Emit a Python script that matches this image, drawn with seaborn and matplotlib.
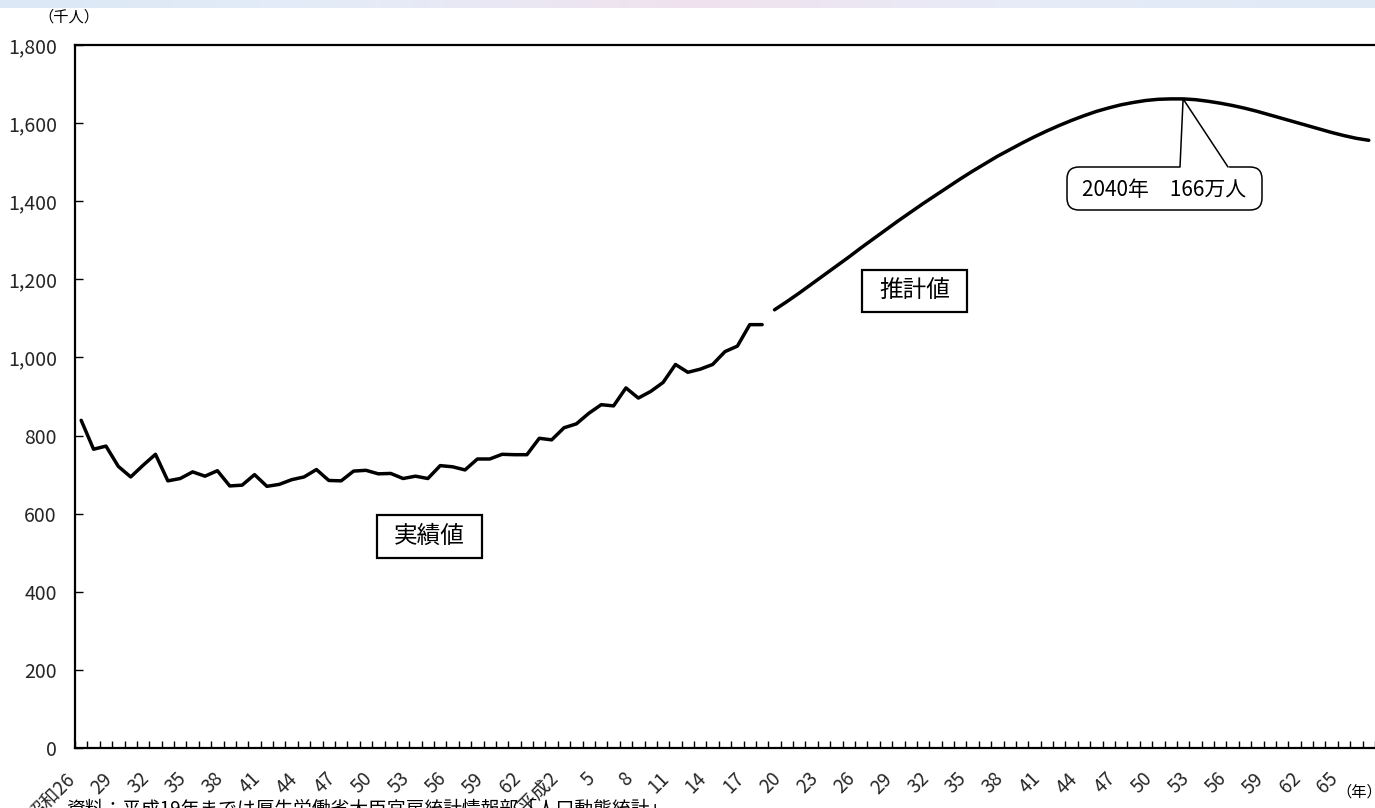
import numpy as np
import pandas as pd
import matplotlib
matplotlib.use("Agg")
import matplotlib.pyplot as plt
import matplotlib.transforms as mtransforms
from matplotlib.patches import FancyBboxPatch, Rectangle
from matplotlib.colors import LinearSegmentedColormap
import seaborn as sns

# Annual deaths in Japan (thousands): recorded values and the projection
actual_years = list(range(1951, 2007))
actual_deaths = [839, 765, 773, 721, 694, 724, 752, 684, 690, 707,
                 696, 710, 671, 673, 700, 670, 675, 687, 694, 713,
                 685, 684, 709, 711, 702, 703, 690, 696, 690, 723,
                 720, 712, 740, 740, 752, 751, 751, 793, 789, 820,
                 830, 857, 879, 876, 922, 896, 913, 936, 982, 962,
                 970, 982, 1015, 1029, 1084, 1084]

proj_years = list(range(2007, 2056))
proj_deaths = [1122, 1143, 1165, 1188, 1211, 1234, 1257, 1281, 1304, 1327,
               1350, 1372, 1394, 1415, 1436, 1457, 1477, 1496, 1515, 1532,
               1549, 1565, 1580, 1594, 1607, 1619, 1630, 1639, 1647, 1653,
               1658, 1661, 1662, 1662, 1660, 1656, 1651, 1645, 1638, 1630,
               1621, 1612, 1603, 1594, 1585, 1576, 1568, 1561, 1556]

tick_years = list(range(1951, 2054, 3))
tick_labels = ["昭和26", "29", "32", "35", "38", "41", "44", "47", "50", "53",
               "56", "59", "62", "平成2", "5", "8", "11", "14", "17", "20",
               "23", "26", "29", "32", "35", "38", "41", "44", "47", "50",
               "53", "56", "59", "62", "65"]
y_ticks = [0, 200, 400, 600, 800, 1000, 1200, 1400, 1600, 1800]

peak_year, peak_value = 2040, 1662
peak_text = "2040年　166万人"
actual_text = "実績値"
proj_text = "推計値"
source_text = "資料：平成19年までは厚生労働省大臣官房統計情報部「人口動態統計」"

sns.set_theme(style="white")
plt.rcParams["font.family"] = ["Noto Sans CJK JP", "DejaVu Sans"]

W, H = 1375, 808
fig = plt.figure(figsize=(W / 100, H / 100), dpi=100)
fig.patch.set_facecolor("white")

# pale header strip along the top edge
band = fig.add_axes([0, 1 - 8 / H, 1, 8 / H])
cmap = LinearSegmentedColormap.from_list("band", ["#dce8f6", "#e4ecf8", "#f0e2ee", "#e6ecf8", "#dfe9f6"])
band.imshow(np.linspace(0, 1, 256)[None, :], aspect="auto", cmap=cmap)
band.set_axis_off()

ax = fig.add_axes([75 / W, (H - 748) / H, 1300 / W, (748 - 45) / H])

df_a = pd.DataFrame({"year": actual_years, "deaths": actual_deaths})
df_p = pd.DataFrame({"year": proj_years, "deaths": proj_deaths})
sns.lineplot(data=df_a, x="year", y="deaths", ax=ax, color="black", lw=2.5)
sns.lineplot(data=df_p, x="year", y="deaths", ax=ax, color="black", lw=2.5)

ax.set_xlim(1950.5, 2055.5)
ax.set_ylim(0, 1800)
ax.set_xlabel("")
ax.set_ylabel("")

for side in ["left", "bottom", "top"]:
    ax.spines[side].set_visible(True)
    ax.spines[side].set_color("black")
    ax.spines[side].set_linewidth(1.6)
ax.spines["right"].set_visible(False)

ax.set_yticks(y_ticks)
ax.set_yticklabels([f"{v:,}" for v in y_ticks])
ax.tick_params(axis="y", direction="in", length=6, width=1, color="black",
               labelsize=14, pad=13, left=True)

ax.set_xticks(tick_years)
ax.set_xticklabels(tick_labels, rotation=45, ha="right", va="center",
                   rotation_mode="anchor")
ax.set_xticks(np.arange(1950.5, 2056, 1.0), minor=True)
ax.tick_params(axis="x", which="major", length=0, labelsize=13.5, pad=20)
ax.tick_params(axis="x", which="minor", direction="in", length=5, width=1,
               color="black", bottom=True)
shift = mtransforms.ScaledTranslation(-9 / 100, 0, fig.dpi_scale_trans)
for lab in ax.get_xticklabels():
    lab.set_transform(lab.get_transform() + shift)

inch = fig.dpi_scale_trans


def px(x, y):
    return x / 100, (H - y) / 100


def label_box(x0, y0, x1, y1, text, size):
    (a, b), (c, d) = px(x0, y1), px(x1, y0)
    fig.patches.append(Rectangle((a, b), c - a, d - b, transform=inch,
                                 fc="white", ec="black", lw=1.6))
    fig.text((a + c) / 2, (b + d) / 2, text, transform=inch, ha="center",
             va="center", fontsize=size, color="black")


label_box(377, 515, 482, 558, actual_text, 17)
label_box(862, 270, 967, 312, proj_text, 17)

# rounded callout for the peak
bx0, by0, bx1, by1 = 1067, 167, 1262, 210
(a, b), (c, d) = px(bx0, by1), px(bx1, by0)
fig.patches.append(FancyBboxPatch((a, b), c - a, d - b, transform=inch,
                                  boxstyle="round,pad=0,rounding_size=0.12",
                                  fc="white", ec="black", lw=1.1))
fig.text((a + c) / 2, (b + d) / 2 - 0.02, peak_text, transform=inch,
         ha="center", va="center", fontsize=15, color="black")
tip = inch.inverted().transform(ax.transData.transform((peak_year, peak_value)))
l0 = px(1180, by0)
r0 = px(1228, by0)
fig.lines.append(plt.Line2D([l0[0] + 0.005, r0[0] - 0.005], [l0[1], r0[1]],
                            transform=inch, color="white", lw=2.5))
fig.lines.append(plt.Line2D([l0[0], tip[0], r0[0]], [l0[1], tip[1], r0[1]],
                            transform=inch, color="black", lw=1.1))

fig.text(*px(38, 17), "（千人）", transform=inch, ha="left", va="center",
         fontsize=11, color="black")
fig.text(*px(1336, 792), "（年）", transform=inch, ha="left", va="center",
         fontsize=11, color="black")
fig.text(*px(66, 799), source_text, transform=inch, ha="left", va="top",
         fontsize=13.5, color="black")

fig.savefig("out.png", dpi=100)
